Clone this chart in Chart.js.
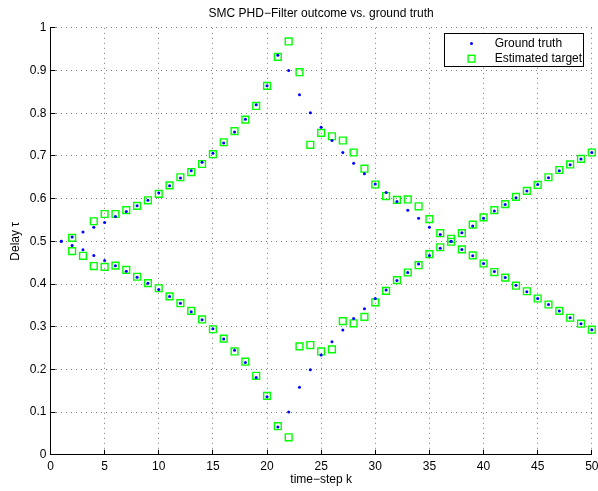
<!DOCTYPE html>
<html><head><meta charset="utf-8">
<script src="https://cdn.jsdelivr.net/npm/chart.js@4.4.0/dist/chart.umd.min.js"></script>
<style>html,body{margin:0;padding:0;background:#fff;}canvas{display:block;}</style>
</head><body>
<canvas id="c" width="598" height="491"></canvas>
<script>
const steps = [1,2,3,4,5,6,7,8,9,10,11,12,13,14,15,16,17,18,19,20,21,22,23,24,25,26,27,28,29,30,31,32,33,34,35,36,37,38,39,40,41,42,43,44,45,46,47,48,49,50];
const truthTrackA = [0.500,0.510,0.522,0.533,0.544,0.558,0.570,0.583,0.596,0.613,0.630,0.648,0.665,0.685,0.706,0.730,0.756,0.786,0.820,0.864,0.936,0.900,0.843,0.801,0.767,0.736,0.708,0.683,0.658,0.634,0.614,0.593,0.573,0.554,0.533,0.516,0.500,0.481,0.466,0.448,0.429,0.415,0.397,0.382,0.366,0.352,0.337,0.321,0.307,0.293];
const truthTrackB = [0.500,0.490,0.480,0.467,0.455,0.443,0.430,0.416,0.402,0.387,0.371,0.355,0.335,0.316,0.295,0.271,0.245,0.216,0.181,0.136,0.065,0.100,0.158,0.199,0.234,0.265,0.292,0.319,0.342,0.366,0.386,0.408,0.427,0.447,0.467,0.484,0.500,0.520,0.536,0.554,0.571,0.586,0.602,0.618,0.633,0.649,0.665,0.679,0.693,0.708];
const estTrackA = [null,0.508,null,0.547,0.564,0.564,0.573,0.583,0.596,0.611,0.631,0.650,0.662,0.681,0.704,0.732,0.758,0.785,0.817,0.864,0.932,0.968,0.896,0.726,0.754,0.746,0.736,0.708,0.670,0.633,0.606,0.597,0.598,0.582,0.552,0.519,0.506,0.481,0.467,0.448,0.428,0.415,0.396,0.383,0.366,0.352,0.337,0.321,0.307,0.293];
const estTrackB = [null,0.477,0.466,0.442,0.440,0.443,0.433,0.417,0.402,0.390,0.371,0.355,0.337,0.317,0.294,0.272,0.242,0.218,0.185,0.138,0.067,0.041,0.254,0.257,0.242,0.247,0.313,0.308,0.323,0.357,0.384,0.409,0.427,0.444,0.470,0.486,0.499,0.519,0.539,0.556,0.573,0.587,0.604,0.618,0.632,0.650,0.667,0.680,0.693,0.708];
const xTickLabels = ['0','5','10','15','20','25','30','35','40','45','50'];
const yTickLabels = ['0','0.1','0.2','0.3','0.4','0.5','0.6','0.7','0.8','0.9','1'];
const seriesNames = ['Ground truth','Estimated target'];
const titleText = 'SMC PHD\u2212Filter outcome vs. ground truth';
const xTitle = 'time\u2212step k';
const yTitle = 'Delay \u03c4';

const FONT = 'Liberation Sans, Arial, Helvetica, sans-serif';
Chart.defaults.font.family = FONT;
Chart.defaults.font.size = 12;
Chart.defaults.color = '#000';

function toPoints(vals){
  const out = [];
  vals.forEach((v,i)=>{ if (v !== null) out.push({x: steps[i], y: v}); });
  return out;
}
const truthPoints = toPoints(truthTrackA).concat(toPoints(truthTrackB));
const estPoints = toPoints(estTrackA).concat(toPoints(estTrackB));

function align(v){ return Math.round(v - 0.5) + 0.5; }

const matlabDeco = {
  id: 'matlabDeco',
  beforeDatasetsDraw(chart){
    const {ctx, chartArea: a, scales: {x, y}} = chart;
    ctx.save();
    ctx.strokeStyle = '#000';
    ctx.lineWidth = 1;
    ctx.beginPath();
    x.ticks.forEach(t => { const px = align(x.getPixelForValue(t.value)); ctx.moveTo(px, a.bottom); ctx.lineTo(px, a.bottom - 5); });
    y.ticks.forEach(t => { const py = align(y.getPixelForValue(t.value)); ctx.moveTo(a.left, py); ctx.lineTo(a.left + 5, py); });
    ctx.stroke();
    ctx.restore();
  },
  afterDraw(chart){
    const {ctx, chartArea: a} = chart;
    const bw = 139, bh = 33;
    const bx = align(a.right - 8 - bw), by = align(a.top + 5.7);
    ctx.save();
    ctx.fillStyle = '#fff';
    ctx.fillRect(bx, by, bw, bh);
    ctx.strokeStyle = '#000';
    ctx.lineWidth = 1;
    ctx.strokeRect(bx, by, bw, bh);
    const mx = bx + 27;
    ctx.fillStyle = '#0000ff';
    ctx.beginPath(); ctx.arc(mx, by + 10, 1.5, 0, Math.PI*2); ctx.fill();
    ctx.strokeStyle = '#00ff00';
    ctx.lineWidth = 1.4;
    ctx.strokeRect(mx - 3.4, by + 25.2 - 3.4, 6.8, 6.8);
    ctx.fillStyle = '#000';
    ctx.font = '12px ' + FONT;
    ctx.textAlign = 'left';
    ctx.textBaseline = 'alphabetic';
    ctx.fillText(seriesNames[0], bx + 50.2, by + 13.8);
    ctx.fillText(seriesNames[1], bx + 50.2, by + 28.8);
    ctx.restore();
  }
};

new Chart(document.getElementById('c'), {
  type: 'scatter',
  data: {
    datasets: [
      { label: seriesNames[0], data: truthPoints, pointStyle: 'circle', pointRadius: 1.5, backgroundColor: '#0000ff', borderWidth: 0, clip: false },
      { label: seriesNames[1], data: estPoints, pointStyle: 'rect', pointRadius: 4.8, backgroundColor: 'rgba(0,0,0,0)', borderColor: '#00ff00', borderWidth: 1.4, clip: false }
    ]
  },
  options: {
    responsive: false,
    animation: false,
    devicePixelRatio: 1,
    events: [],
    layout: { padding: { left: 0, right: 3.5, top: 0, bottom: 0 } },
    plugins: {
      legend: { display: false },
      tooltip: { enabled: false },
      title: { display: true, text: titleText, fullSize: false, color: '#000', font: { size: 12, weight: 'normal', lineHeight: 1.2 }, padding: { top: 6.6, bottom: 6.8 } }
    },
    scales: {
      x: {
        type: 'linear', min: 0, max: 50,
        ticks: { stepSize: 5, autoSkip: false, maxRotation: 0, padding: 4.7, color: '#000', font: { size: 12 }, callback: v => xTickLabels[Math.round(v / 5)] },
        grid: { color: '#7a7a7a', lineWidth: 1, drawTicks: false },
        border: { display: true, color: '#000', width: 1, dash: [1, 4] },
        title: { display: true, text: xTitle, color: '#000', font: { size: 12, lineHeight: 1.2 }, padding: { top: 0, bottom: 4.0 } },
        afterFit(s){ s.height = 36.2; s.paddingLeft = 0; s.paddingRight = 0; }
      },
      y: {
        type: 'linear', min: 0, max: 1,
        ticks: { stepSize: 0.1, autoSkip: false, padding: 4, color: '#000', font: { size: 12 }, callback: v => yTickLabels[Math.round(v * 10)] },
        grid: { color: '#7a7a7a', lineWidth: 1, drawTicks: false },
        border: { display: true, color: '#000', width: 1, dash: [1, 4] },
        title: { display: true, text: yTitle, color: '#000', font: { size: 12, lineHeight: 1.2 }, padding: { top: 8.4, bottom: 0 } },
        afterFit(s){ s.width = 50.5; s.paddingTop = 0; s.paddingBottom = 0; }
      }
    }
  },
  plugins: [matlabDeco]
});
</script>
</body></html>
